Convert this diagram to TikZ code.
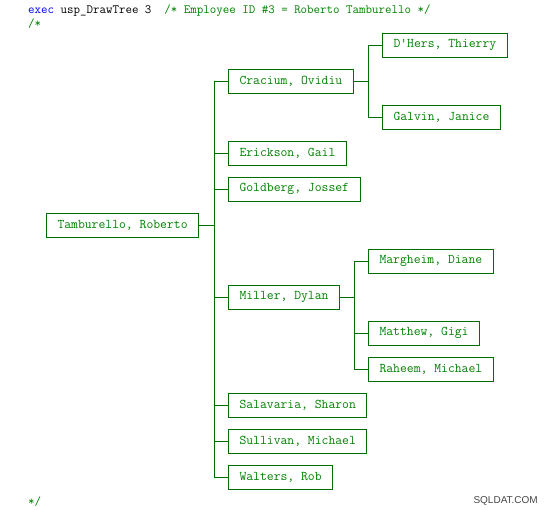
\documentclass[tikz,border=0pt]{standalone}
\usepackage{fontspec}
\setsansfont{Liberation Sans}
\usetikzlibrary{positioning}
\definecolor{sqlgreen}{RGB}{0,128,0}
\definecolor{sqlblue}{RGB}{0,0,255}
\definecolor{markgray}{RGB}{70,70,70}
\begin{document}
\begin{tikzpicture}[
    x=1pt, y=-1pt,
    every node/.style={font=\ttfamily\fontsize{13.3}{15}\selectfont},
    emp/.style={rectangle, draw=sqlgreen!85!black, line width=1pt, text=sqlgreen,
                minimum height=24pt, inner xsep=11pt, inner ysep=0pt, anchor=west},
    link/.style={draw=sqlgreen!85!black, line width=1pt},
    code/.style={anchor=base west, inner sep=0pt,
                 font=\ttfamily\fontsize{12.6}{15}\selectfont}
]
\useasboundingbox (0,0) rectangle (548,509);
% header and footer of the query output
\node[code]                  (head)  at (28,13)  {{\color{sqlblue}exec} usp\_DrawTree 3\ \ {\color{sqlgreen}/* Employee ID \#3 = Roberto Tamburello */}};
\node[code, text=sqlgreen]   (open)  at (28,27)  {/*};
\node[code, text=sqlgreen]   (close) at (28,505) {*/};
\node[anchor=base east, inner sep=0pt, text=markgray,
      font=\sffamily\fontsize{10}{12}\selectfont] (mark) at (538,503) {SQLDAT.COM};
% employees
\node[emp] (root) at (46,225)  {Tamburello, Roberto};
\node[emp] (crac) at (228,81)  {Cracium, Ovidiu};
\node[emp] (dher) at (382,45)  {D'Hers, Thierry};
\node[emp] (galv) at (382,117) {Galvin, Janice};
\node[emp] (eric) at (228,153) {Erickson, Gail};
\node[emp] (gold) at (228,189) {Goldberg, Jossef};
\node[emp] (mill) at (228,297) {Miller, Dylan};
\node[emp] (marg) at (368,261) {Margheim, Diane};
\node[emp] (matt) at (368,333) {Matthew, Gigi};
\node[emp] (rahe) at (368,369) {Raheem, Michael};
\node[emp] (sala) at (228,405) {Salavaria, Sharon};
\node[emp] (sull) at (228,441) {Sullivan, Michael};
\node[emp] (walt) at (228,477) {Walters, Rob};
% branch points
\coordinate (t1) at (214,225);
\coordinate (t2) at (368,81);
\coordinate (t3) at (354,297);
\foreach \c in {crac,eric,gold,mill,sala,sull,walt}
  \draw[link] (root.east) -- (t1) |- (\c.west);
\foreach \c in {dher,galv}
  \draw[link] (crac.east) -- (t2) |- (\c.west);
\foreach \c in {marg,matt,rahe}
  \draw[link] (mill.east) -- (t3) |- (\c.west);
\end{tikzpicture}
\end{document}
